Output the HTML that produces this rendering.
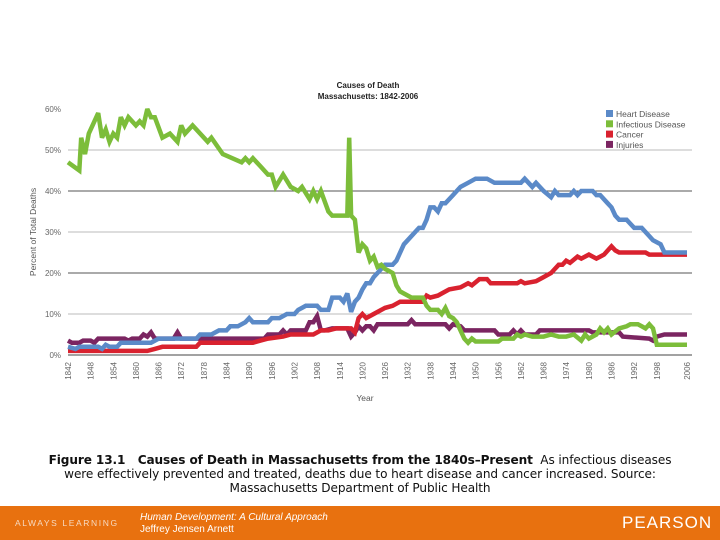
<!DOCTYPE html>
<html><head><meta charset="utf-8"><style>
body{margin:0;width:720px;height:540px;background:#fff;overflow:hidden;position:relative;font-family:"Liberation Sans",sans-serif}
#cap{position:absolute;left:0;top:453px;width:720px;text-align:center;font-family:"DejaVu Sans",sans-serif;font-size:12.1px;line-height:14px;color:#111;letter-spacing:-0.1px}
#bar{position:absolute;left:0;top:506px;width:720px;height:34px;background:#e8710f}
</style></head><body>
<svg id="chart" width="720" height="506" style="position:absolute;left:0;top:0" font-family="Liberation Sans, sans-serif"></svg>
<div id="cap"><b>Figure 13.1 &nbsp; Causes of Death in Massachusetts from the 1840s–Present</b>&nbsp; As infectious diseases<br>were effectively prevented and treated, deaths due to heart disease and cancer increased. Source:<br>Massachusetts Department of Public Health</div>
<div id="bar">
<span style="position:absolute;left:15px;top:12px;font-size:8.5px;letter-spacing:1.6px;color:#f6d9c0">ALWAYS LEARNING</span>
<span style="position:absolute;left:140px;top:6px;font-size:10px;font-style:italic;color:#fff;line-height:12px">Human Development: A Cultural Approach<br><span style="font-style:normal">Jeffrey Jensen Arnett</span></span>
<span style="position:absolute;left:622px;top:7px;font-size:17px;letter-spacing:1px;color:#fff">PEARSON</span>
</div>
<script>
const years_heart=[1842,1844,1845,1850,1851,1852,1853,1855,1856,1864,1866,1876,1877,1880,1882,1884,1885,1887,1889,1890,1891,1895,1896,1898,1900,1902,1903,1904,1905,1908,1909,1911,1912,1914,1915,1916,1917,1918,1919,1920,1921,1922,1923,1924,1926,1928,1929,1931,1932,1934,1935,1936,1937,1938,1939,1940,1941,1942,1944,1946,1948,1950,1953,1955,1962,1963,1964,1965,1966,1968,1970,1971,1972,1975,1976,1977,1978,1981,1982,1983,1985,1986,1987,1988,1990,1992,1994,1996,1997,1999,2000,2006];
const heart=[2,1.5,2,2,1.5,2.5,2,2,3,3,4,4,5,5,6,6,7,7,8,9,8,8,9,9,10,10,11,11.5,12,12,11,11,14,14,13,15,10.5,13,14,16,17.5,17.5,19,20,22,22,23,27,28,30,31,31,33,36,36,35,37,37,39,41,42,43,43,42,42,43,42,41,42,40,38.5,40,39,39,40,39,40,40,39,39,37,36,34,33,33,31,31,29,28,27,25,25];
const years_inf=[1842,1845,1845.5,1846.5,1847.5,1850,1851,1852,1853,1854,1855,1856,1857,1858,1860,1861,1862,1863,1864,1865,1867,1869,1871,1872,1873,1875,1879,1880,1883,1888,1889,1890,1891,1893,1895,1896,1897,1899,1901,1903,1904,1906,1907,1908,1909,1911,1912,1916,1916.5,1917,1918,1919,1920,1921,1922,1923,1924,1925,1926,1927,1928,1929,1930,1931,1933,1936,1937,1938,1940,1941,1942,1943,1944,1945,1946,1947,1948,1949,1950,1956,1957,1960,1961,1962,1963,1965,1968,1970,1972,1974,1976,1978,1979,1980,1982,1983,1984,1985,1986,1988,1990,1991,1993,1994,1995,1996,1997,1998,2006];
const infectious=[47,45,53,49,54,59,53,55,52,54,53,58,56,58,56,57,56,60,58,58,53,54,52,56,54,56,52,53,49,47,48,47,48,46,44,44,41,44,41,40,41,38,40,38,40,35,34,34,53,34,33,25,27,26,23,24,21.5,22,21,20.5,20,17,15.5,15,14,14,12,11,11,10,11.5,9.5,9,8,6,4,3,4,3.3,3.3,4,4,5,4.5,5,4.5,4.5,5,4.5,4.5,5,3.5,5,4,5,6.5,5.5,6.5,5,6.5,7,7.5,7.5,7,6.5,7.5,6.5,2.5,2.5];
const years_cancer=[1842,1863,1865,1867,1876,1877,1891,1893,1895,1899,1901,1907,1909,1911,1913,1917,1918,1919,1920,1921,1923,1925,1926,1928,1930,1936,1937,1938,1940,1941,1943,1946,1948,1949,1951,1953,1954,1961,1962,1963,1966,1968,1970,1971,1972,1973,1974,1975,1977,1978,1980,1982,1983,1984,1986,1987,1988,1995,1996,2006];
const cancer=[1,1,1.5,2,2,3,3,3.5,4,4.5,5,5,6,6,6.5,6.5,5.5,9,10,9,10,11,11.5,12,13,13,14.5,14,14.5,15,16,16.5,17.5,17,18.5,18.5,17.5,17.5,18,17.5,18,19,20,21,22,22,23,22.5,24,23.5,24.5,23.5,24,24.5,26.5,25.5,25,25,24.5,24.5];
const years_inj=[1842,1843,1845,1846,1848,1849,1850,1857,1858,1859,1861,1862,1863,1864,1865,1870,1871,1872,1894,1895,1898,1899,1900,1901,1905,1906,1907,1908,1909,1910,1912,1916,1917,1918,1919,1920,1921,1922,1923,1924,1932,1933,1934,1942,1943,1944,1946,1947,1955,1956,1959,1960,1961,1962,1963,1966,1967,1980,1981,1988,1989,1996,1997,1998,2000,2006];
const injuries=[3.5,3,3,3.5,3.5,3,4,4,3.5,4,4,5,4.5,5.5,4,4,5.5,4,4,5,5,6,5,6,6,8,8,9.5,6,6,6.5,6.5,4.5,5.5,7,6,7,7,6,7.5,7.5,8.5,7.5,7.5,6.5,7.5,7,6,6,5,5,6,5,6,5,5,6,6,5.5,5.5,4.5,4,3.5,4.5,5,5];
const yTicks=[0,10,20,30,40,50,60];
const xTickYears=[1842,1848,1854,1860,1866,1872,1878,1884,1890,1896,1902,1908,1914,1920,1926,1932,1938,1944,1950,1956,1962,1968,1974,1980,1986,1992,1998,2006];
const seriesNames=["Heart Disease","Infectious Disease","Cancer","Injuries"];
const colors=["#5b8ac8","#7cbd3a","#d9222f","#7b2561"];

const svg=document.getElementById('chart');const NS='http://www.w3.org/2000/svg';
const X=y=>68+(y-1842)*(687-68)/164;
const Y=v=>355-v*(355-109)/60;
function mk(t,a,p){const e=document.createElementNS(NS,t);for(const k in a)e.setAttribute(k,a[k]);(p||svg).appendChild(e);return e;}
yTicks.forEach(v=>{
  if(v>0&&v<60){const g=mk('line',{x1:68,x2:692,y1:Y(v),y2:Y(v),stroke:v%20==10?'#bbb':'#555','stroke-width':1});
  
  }
  const t=mk('text',{x:61,y:Y(v)+3,'text-anchor':'end','font-size':8,fill:'#666'});t.textContent=v+'%';
  
  
});
const ax=mk('line',{x1:68,x2:692,y1:355,y2:355,stroke:'#444','stroke-width':1});


xTickYears.forEach(yr=>{
  const t=mk('text',{transform:`translate(${X(yr)+3},362) rotate(-90)`,'text-anchor':'end','font-size':8,fill:'#666'});t.textContent=yr;
  
  
});
const data=[[years_heart,heart],[years_inf,infectious],[years_cancer,cancer],[years_inj,injuries]];
const order=[3,2,0,1];
order.forEach(i=>{
  const [xs,vs]=data[i];
  const p=mk('polyline',{points:xs.map((x,j)=>X(x).toFixed(1)+','+Y(vs[j]).toFixed(1)).join(' '),fill:'none',stroke:colors[i],'stroke-width':4.5,'stroke-linejoin':'miter','stroke-miterlimit':3});
  
  
});
seriesNames.forEach((n,i)=>{
  const r=mk('rect',{x:606,y:110+i*10.3,width:7,height:7,fill:colors[i]});
  
  
  const t=mk('text',{x:616,y:117+i*10.3,'font-size':8.5,fill:'#555'});t.textContent=n;
  
  
});
[['Causes of Death',88,'chart-title'],['Massachusetts: 1842-2006',99,'chart-subtitle']].forEach(([s,y,nm])=>{
  const t=mk('text',{x:368,y:y,'text-anchor':'middle','font-size':8,'font-weight':'bold',fill:'#222'});t.textContent=s;
  
  
});
const xt=mk('text',{x:365,y:401,'text-anchor':'middle','font-size':8.5,fill:'#555'});xt.textContent='Year';


const yt=mk('text',{transform:'translate(36,232) rotate(-90)','text-anchor':'middle','font-size':8.5,fill:'#555'});yt.textContent='Percent of Total Deaths';


</script>
</body></html>
